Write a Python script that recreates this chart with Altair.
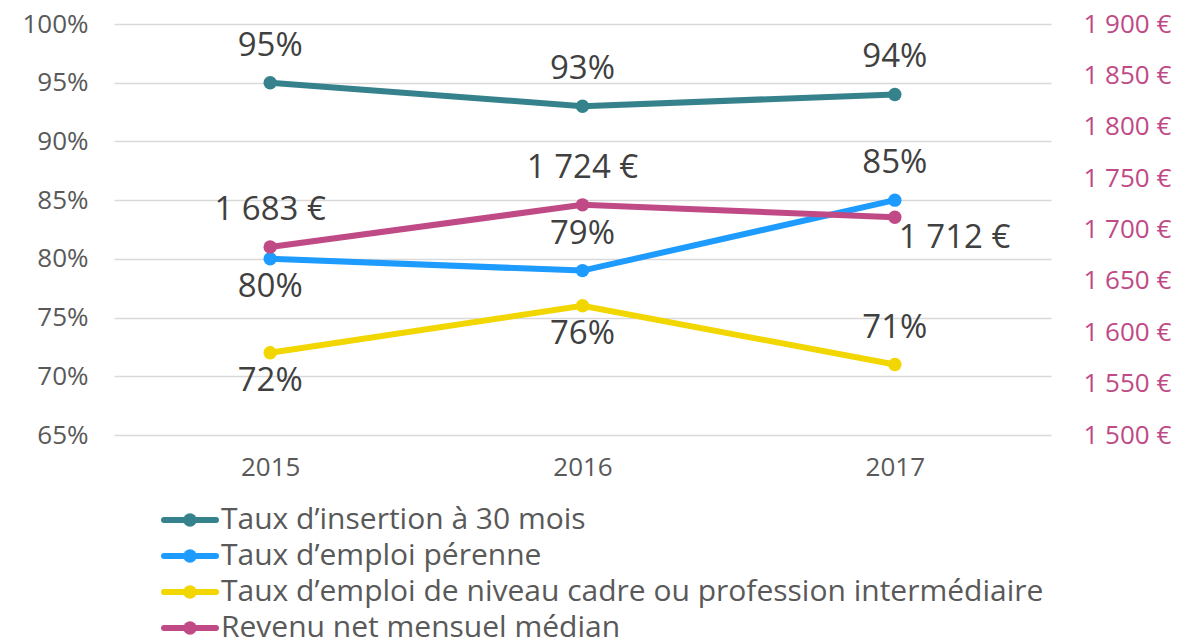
import altair as alt
import pandas as pd

years = ["2015", "2016", "2017"]
series_names = [
    "Taux d’insertion à 30 mois",
    "Taux d’emploi pérenne",
    "Taux d’emploi de niveau cadre ou profession intermédiaire",
    "Revenu net mensuel médian",
]
colors = ["#35828C", "#1E9BFF", "#F2D600", "#C04A86"]

insertion = [0.95, 0.93, 0.94]
perenne = [0.80, 0.79, 0.85]
cadre = [0.72, 0.76, 0.71]
revenu = [1683, 1724, 1712]

# label placement relative to the point
pos_insertion = ["above", "above", "above"]
pos_perenne = ["below", "above", "above"]
pos_cadre = ["below", "below", "above"]
pos_revenu = ["above", "above", "right"]

pct_rows = []
for name, vals, poss in [
    (series_names[0], insertion, pos_insertion),
    (series_names[1], perenne, pos_perenne),
    (series_names[2], cadre, pos_cadre),
]:
    for y, v, p in zip(years, vals, poss):
        pct_rows.append({"year": y, "series": name, "value": v,
                         "label": f"{round(v * 100)}%", "pos": p})
pct = pd.DataFrame(pct_rows)

rev = pd.DataFrame({
    "year": years,
    "series": series_names[3],
    "value": revenu,
    "label": [f"{v:,}".replace(",", " ") + " €" for v in revenu],
    "pos": pos_revenu,
})

legend_df = pd.DataFrame({"series": series_names, "col": colors,
                          "idx": list(range(len(series_names)))})

FONT = "Open Sans"
color_scale = alt.Scale(domain=series_names, range=colors)
x_enc = alt.X("year:N", title=None,
              axis=alt.Axis(labelAngle=0, labelFontSize=26, labelColor="#595959",
                            labelPadding=19, domain=False, ticks=False, grid=False,
                            labelFont=FONT))

y_left = alt.Y("value:Q", title=None,
               scale=alt.Scale(domain=[0.65, 1.0], nice=False, zero=False),
               axis=alt.Axis(format=".0%", values=[0.65, 0.70, 0.75, 0.80, 0.85, 0.90, 0.95, 1.0],
                             labelFontSize=26, labelColor="#595959", labelFont=FONT,
                             labelPadding=26, domain=False, ticks=False,
                             grid=True, gridColor="#D9D9D9", gridWidth=1.5))

y_right = alt.Y("value:Q", title=None,
                scale=alt.Scale(domain=[1500, 1900], nice=False, zero=False),
                axis=alt.Axis(orient="right",
                              values=[1500, 1550, 1600, 1650, 1700, 1750, 1800, 1850, 1900],
                              labelExpr="replace(format(datum.value, ','), ',', ' ') + ' €'",
                              labelFontSize=26, labelColor="#C04A86", labelFont=FONT,
                              labelPadding=32, domain=False, ticks=False, grid=False))

def build(df, y_enc):
    base = alt.Chart(df).encode(x=x_enc, y=y_enc)
    line = base.mark_line(strokeWidth=6).encode(
        color=alt.Color("series:N", scale=color_scale, legend=None),
        detail="series:N")
    pts = base.mark_circle(size=180, opacity=1).encode(
        color=alt.Color("series:N", scale=color_scale, legend=None))
    txt_kw = dict(fontSize=33, color="#404040", font=FONT, baseline="middle")
    above = base.transform_filter("datum.pos == 'above'").mark_text(dy=-37, **txt_kw).encode(text="label:N")
    below = base.transform_filter("datum.pos == 'below'").mark_text(dy=28, **txt_kw).encode(text="label:N")
    right = base.transform_filter("datum.pos == 'right'").mark_text(dy=21, dx=4, align="left", **txt_kw).encode(text="label:N")
    return alt.layer(line, pts, above, below, right)

left = build(pct, y_left)
right_chart = build(rev, y_right)

# legend drawn below the plot (row spacing 36 px)
leg_base = alt.Chart(legend_df).transform_calculate(ly="496 + 36 * datum.idx").encode(
    y=alt.Y("ly:Q", scale=None, axis=None))
leg_rule = leg_base.mark_rule(strokeWidth=6, strokeCap="round").encode(
    x=alt.value(50), x2=alt.value(102), color=alt.Color("col:N", scale=None))
leg_dot = leg_base.mark_circle(size=180, opacity=1).encode(
    x=alt.value(76), color=alt.Color("col:N", scale=None))
leg_txt = leg_base.mark_text(align="left", baseline="middle", fontSize=30,
                             font=FONT, color="#595959").encode(
    x=alt.value(107), text="series:N")
legend_layer = alt.layer(leg_rule, leg_dot, leg_txt)

chart = alt.layer(left, right_chart, legend_layer).resolve_scale(
    y="independent", color="independent").properties(
    width=937, height=411,
    padding={"left": 114, "top": 24, "right": 130, "bottom": 207},
    autosize=alt.AutoSizeParams(type="none"),
    background="white",
).configure_view(stroke=None)

chart.save("out.html", embed_options={"renderer": "svg", "actions": False})
